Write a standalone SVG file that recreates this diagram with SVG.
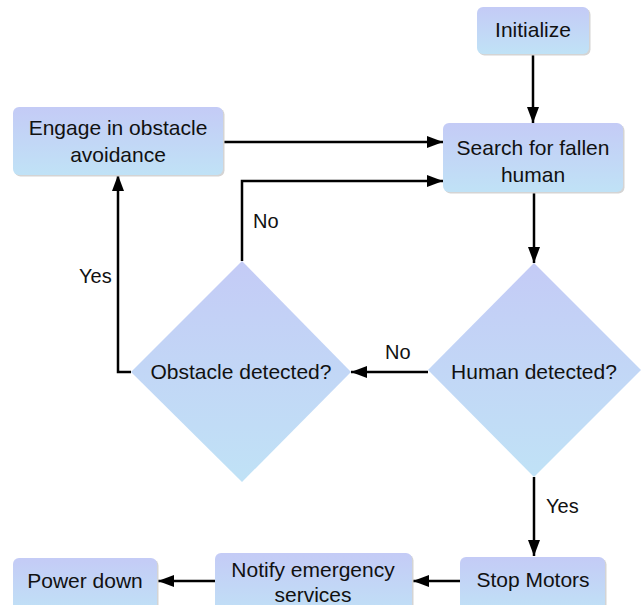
<svg xmlns="http://www.w3.org/2000/svg" width="641" height="605" viewBox="0 0 641 605">
<defs>
<linearGradient id="g" x1="0" y1="0" x2="0" y2="1">
<stop offset="0" stop-color="#c4cbf6"/>
<stop offset="1" stop-color="#c0e2f6"/>
</linearGradient>
<marker id="ah" markerWidth="16" markerHeight="12" refX="16" refY="6" orient="auto" markerUnits="userSpaceOnUse">
<path d="M0,0 L16,6 L0,12 Z" fill="#000"/>
</marker>
<style>
.box{fill:url(#g);}
.sh{fill:#d4d4d4;}
.t{font-family:"Liberation Sans",Arial,sans-serif;font-size:21px;fill:#111;text-anchor:middle;}
.l{font-family:"Liberation Sans",Arial,sans-serif;font-size:20px;fill:#111;}
.c{fill:none;stroke:#000;stroke-width:2.5;}
.a{marker-end:url(#ah);}
</style>
</defs>
<rect width="641" height="605" fill="#fff"/>
<g id="connectors">
<path class="c a" d="M533,54 V123"/>
<path class="c a" d="M223,142 H443"/>
<path class="c a" d="M242,261 V181 H443"/>
<path class="c a" d="M534,192 V263"/>
<path class="c a" d="M428,372 H351"/>
<path class="c a" d="M131,372 H118 V175"/>
<path class="c a" d="M534,477 V556"/>
<path class="c a" d="M460,581 H413"/>
<path class="c a" d="M215,581 H158"/>
<text class="l" x="253" y="228">No</text>
<text class="l" x="79" y="283">Yes</text>
<text class="l" x="385" y="359">No</text>
<text class="l" x="546" y="513">Yes</text>
</g>
<g id="initialize">
<rect class="sh" x="478.5" y="8.5" width="112" height="47" rx="6"/>
<rect class="box" x="477" y="7" width="112" height="47" rx="6"/>
<text class="t" x="533" y="37">Initialize</text>
</g>
<g id="engage">
<rect class="sh" x="14.5" y="108.5" width="210" height="68" rx="6"/>
<rect class="box" x="13" y="107" width="210" height="68" rx="6"/>
<text class="t" x="118" y="135">Engage in obstacle</text>
<text class="t" x="118" y="162">avoidance</text>
</g>
<g id="search">
<rect class="sh" x="444.5" y="124.5" width="180" height="69" rx="6"/>
<rect class="box" x="443" y="123" width="180" height="69" rx="6"/>
<text class="t" x="533" y="155">Search for fallen</text>
<text class="t" x="533" y="182">human</text>
</g>
<g id="human">
<polygon class="box" points="534,263 641,370 534,477 428,370"/>
<text class="t" x="534" y="379">Human detected?</text>
</g>
<g id="obstacle">
<polygon class="box" points="242,261 351,372 242,482 131,372"/>
<text class="t" x="241" y="379">Obstacle detected?</text>
</g>
<g id="stop">
<rect class="sh" x="461.5" y="558.5" width="145" height="56" rx="6"/>
<rect class="box" x="460" y="557" width="145" height="56" rx="6"/>
<text class="t" x="533" y="587">Stop Motors</text>
</g>
<g id="notify">
<rect class="sh" x="216.5" y="554.5" width="197" height="66" rx="6"/>
<rect class="box" x="215" y="553" width="197" height="66" rx="6"/>
<text class="t" x="313" y="577">Notify emergency</text>
<text class="t" x="313" y="602">services</text>
</g>
<g id="power">
<rect class="sh" x="14.5" y="559.5" width="144" height="56" rx="6"/>
<rect class="box" x="13" y="558" width="144" height="56" rx="6"/>
<text class="t" x="85" y="588">Power down</text>
</g>
</svg>
